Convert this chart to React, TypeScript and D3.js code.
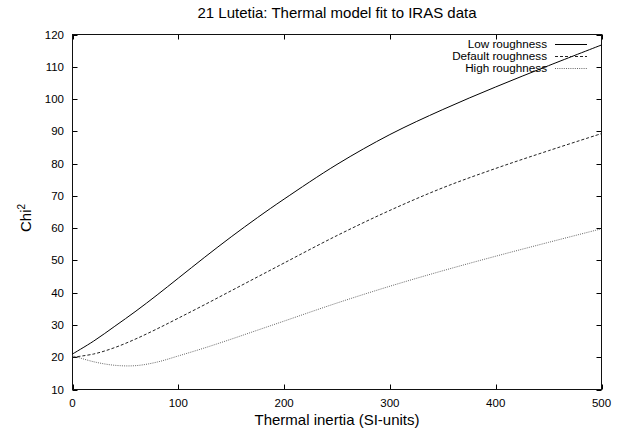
import React from "react";
import * as d3 from "d3";

const xs = [0, 20, 40, 60, 80, 100, 125, 150, 175, 200, 250, 300, 350, 400, 450, 500];
const lowRough = [21, 25.0, 29.6, 34.3, 39.3, 44.5, 51.0, 57.3, 63.3, 69.0, 79.75, 89.0, 96.75, 103.75, 110.35, 116.75];
const defaultRough = [20, 21.0, 23.0, 25.7, 28.8, 32.1, 36.3, 40.6, 44.9, 49.2, 57.7, 65.5, 72.5, 78.5, 84.0, 89.3];
const highRough = [20.5, 18.6, 17.5, 17.4, 18.5, 20.4, 22.9, 25.6, 28.4, 31.2, 36.8, 42.0, 46.8, 51.3, 55.6, 59.8];
const xTicks = [0, 100, 200, 300, 400, 500];
const yTicks = [10, 20, 30, 40, 50, 60, 70, 80, 90, 100, 110, 120];
const seriesNames = ["Low roughness", "Default roughness", "High roughness"];

const W = 627, H = 430;
const L = 72.5, R = 601.5, T = 34.5, B = 389.5;
const font = "'Liberation Sans', Arial, Helvetica, sans-serif";

export default function App() {
  const x = d3.scaleLinear().domain([0, 500]).range([L, R]);
  const y = d3.scaleLinear().domain([10, 120]).range([B, T]);
  const line = (vals: number[]) =>
    d3.line<number>().x((_, i) => x(xs[i])).y((v) => y(v)).curve(d3.curveCatmullRom.alpha(0.5))(vals) || "";
  const series = [
    { name: seriesNames[0], vals: lowRough, stroke: "#000", dash: "none", w: 1 },
    { name: seriesNames[1], vals: defaultRough, stroke: "#222", dash: "3,2", w: 1 },
    { name: seriesNames[2], vals: highRough, stroke: "#666", dash: "1,1.2", w: 1 },
  ];
  const tl = 5;
  return (
    <svg width={W} height={H} style={{ position: "absolute", left: 0, top: 0, background: "#fff" }} fontFamily={font}>
      <rect x={0} y={0} width={W} height={H} fill="#fff" />
      <text x={(L + R) / 2} y={18} textAnchor="middle" fontSize={15}>21 Lutetia: Thermal model fit to IRAS data</text>
      {xTicks.map((t) => (
        <g key={"x" + t}>
          <line x1={Math.round(x(t)) + 0.5} x2={Math.round(x(t)) + 0.5} y1={B} y2={B - tl} stroke="#000" />
          <line x1={Math.round(x(t)) + 0.5} x2={Math.round(x(t)) + 0.5} y1={T} y2={T + tl} stroke="#000" />
          <text x={x(t)} y={407} textAnchor="middle" fontSize={11.5}>{t}</text>
        </g>
      ))}
      {yTicks.map((t) => (
        <g key={"y" + t}>
          <line x1={L} x2={L + tl} y1={Math.round(y(t)) + 0.5} y2={Math.round(y(t)) + 0.5} stroke="#000" />
          <line x1={R} x2={R - tl} y1={Math.round(y(t)) + 0.5} y2={Math.round(y(t)) + 0.5} stroke="#000" />
          <text x={64} y={y(t) + 4} textAnchor="end" fontSize={11.5}>{t}</text>
        </g>
      ))}
      <rect x={L} y={T} width={R - L} height={B - T} fill="none" stroke="#111" strokeWidth={1} />
      <text x={(L + R) / 2} y={425} textAnchor="middle" fontSize={15}>Thermal inertia (SI-units)</text>
      <text transform={`translate(31,218) rotate(-90)`} textAnchor="middle" fontSize={15}>
        Chi<tspan dy={-6} fontSize={10}>2</tspan>
      </text>
      <g>
        {series.map((s) => (
          <path key={s.name} d={line(s.vals)} fill="none" stroke={s.stroke} strokeWidth={s.w} strokeDasharray={s.dash} />
        ))}
      </g>
      {series.map((s, i) => {
        const cy = 44 + i * 12;
        return (
          <g key={"leg" + i}>
            <text x={547} y={cy + 4} textAnchor="end" fontSize={11.7}>{s.name}</text>
            <line x1={555} x2={587} y1={cy + 0.5} y2={cy + 0.5} stroke={s.stroke} strokeWidth={s.w} strokeDasharray={s.dash} />
          </g>
        );
      })}
    </svg>
  );
}
